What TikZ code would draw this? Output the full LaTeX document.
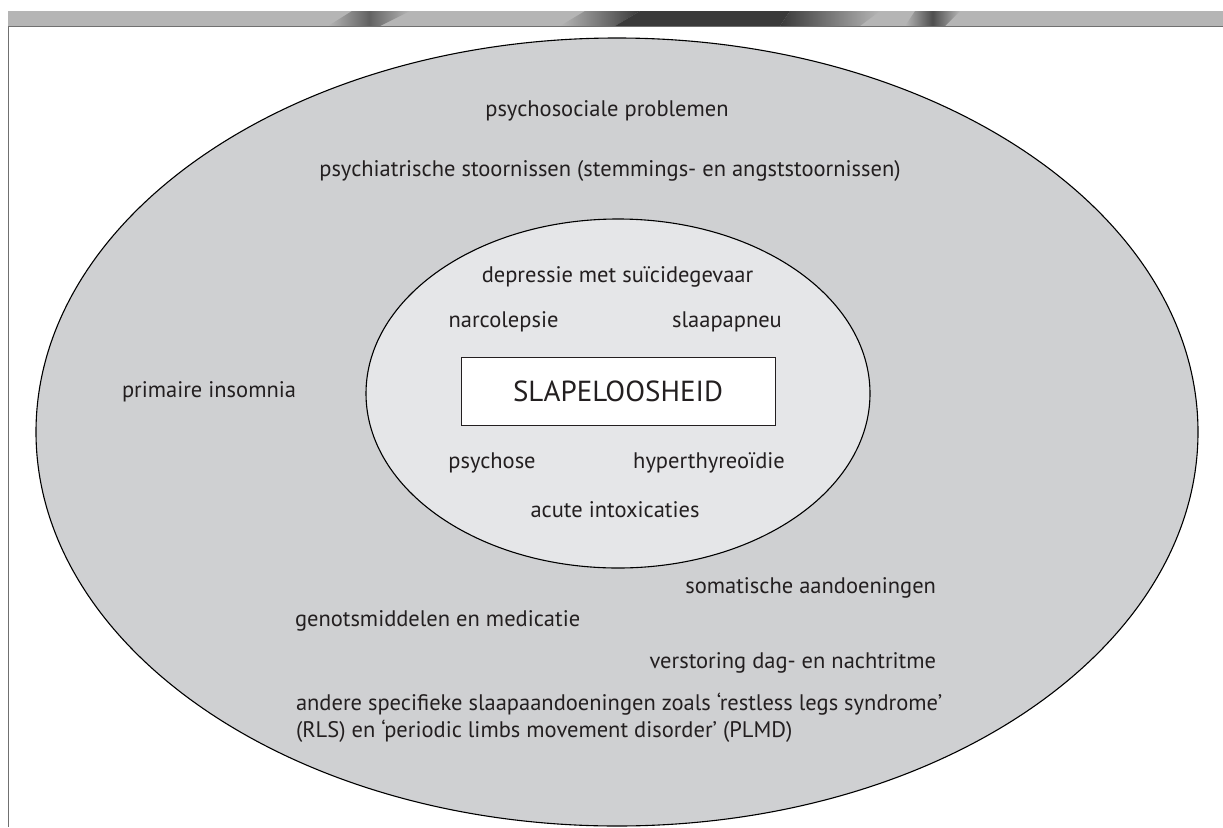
\documentclass[tikz,border=0pt]{standalone}
\usepackage{fontspec}
\setmainfont{PT Sans}
\definecolor{txt}{HTML}{231F20}
\definecolor{outerfill}{HTML}{CFD0D2}
\definecolor{innerfill}{HTML}{E5E6E8}
\definecolor{striplight}{HTML}{B5B5B5}
\definecolor{stripdark}{HTML}{3A3A3A}
\definecolor{framegray}{HTML}{707070}
\begin{document}
\begin{tikzpicture}[x=1pt,y=-1pt,
  every node/.style={inner sep=0pt, outer sep=0pt, text=txt},
  lbl/.style={anchor=base, font=\fontsize{22.5}{27}\selectfont},
  lblleft/.style={lbl, anchor=base west},
  lblright/.style={lbl, anchor=base east},
  ring/.style={draw=black, line width=1.1pt},
  titlebox/.style={draw=txt, line width=0.9pt, fill=white, minimum width=314, minimum height=68, font=\fontsize{29}{35}\selectfont}]
\useasboundingbox (0,0) rectangle (1223,827);
% top strip
\fill[striplight] (8,11) rectangle (1223,26);
\shade[left color=striplight, right color=striplight, middle color=stripdark!80] (328,26) -- (352,11) -- (410,11) -- (380,26) -- cycle;
\shade[left color=striplight, right color=stripdark] (560,26) -- (585,11) -- (640,11) -- (615,26) -- cycle;
\fill[stripdark] (615,26) -- (640,11) -- (790,11) -- (780,26) -- cycle;
\shade[left color=stripdark, right color=striplight] (780,26) -- (790,11) -- (880,11) -- (860,26) -- cycle;
\shade[left color=striplight, right color=striplight, middle color=stripdark!90] (905,26) -- (915,11) -- (960,11) -- (945,26) -- cycle;
% frame
\draw[framegray, line width=1.6pt] (8.5,827) -- (8.5,26.5) -- (1223,26.5);
% ellipses
\draw[ring, fill=outerfill] (617,432) ellipse [x radius=581, y radius=394];
\draw[ring, fill=innerfill] (618,393.5) ellipse [x radius=252, y radius=174.5];
% central box
\node[titlebox] (box) at (618,391) {SLAPELOOSHEID};
% inner labels
\node[lbl] (dep) at (617.5,282.5) {depressie met suïcidegevaar};
\node[lbl] (narc) at (503.5,327) {narcolepsie};
\node[lbl] (apneu) at (727,327) {slaapapneu};
\node[lbl] (psy) at (492,468) {psychose};
\node[lbl] (hyper) at (709,468) {hyperthyreoïdie};
\node[lbl] (acute) at (615,517.5) {acute intoxicaties};
% outer labels
\node[lbl] (psoc) at (607,116) {psychosociale problemen};
\node[lbl] (psych) at (610,176) {psychiatrische stoornissen (stemmings- en angststoornissen)};
\node[lblleft] (prim) at (122,397) {primaire insomnia};
\node[lblright] (som) at (936,593) {somatische aandoeningen};
\node[lblleft] (gen) at (295,626) {genotsmiddelen en medicatie};
\node[lblright] (verst) at (936,668) {verstoring dag- en nachtritme};
\node[lblleft] (andere1) at (296,710) {andere specifieke slaapaandoeningen zoals ‘restless legs syndrome’};
\node[lblleft] (andere2) at (296,737) {(RLS) en ‘periodic limbs movement disorder’ (PLMD)};
\end{tikzpicture}
\end{document}
